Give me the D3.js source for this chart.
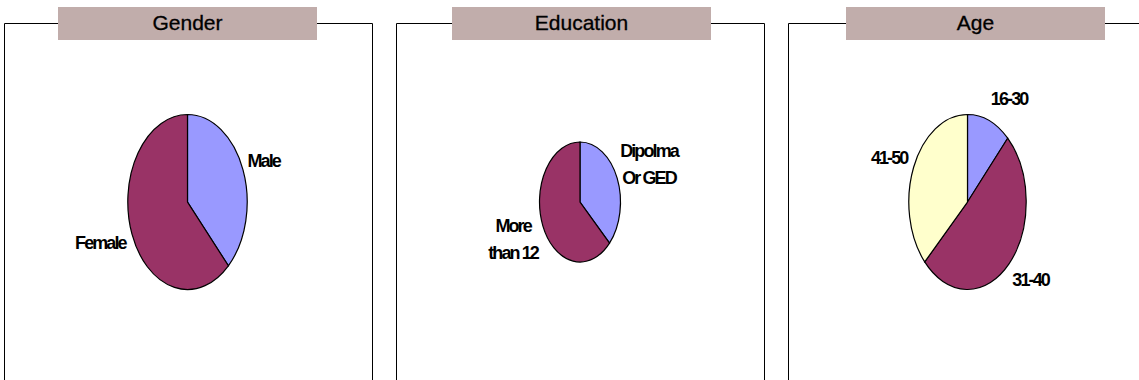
<!DOCTYPE html>
<html>
<head>
<meta charset="utf-8">
<script src="https://cdn.jsdelivr.net/npm/d3@7"></script>
<style>
  body { margin: 0; background: #fff; }
  .title { font-family: "Liberation Sans", Arial, sans-serif; font-size: 21px; fill: #000; stroke: #000; stroke-width: 0.3px; }
  .label { font-family: "Liberation Sans", Arial, sans-serif; font-size: 18px; font-weight: bold; letter-spacing: -1.9px; fill: #000; }
</style>
</head>
<body>
<script>
// three survey pies: gender, education, age

// data
var titles = ["Gender", "Education", "Age"];

var genderCats = [["Male"], ["Female"]];
var genderVals = [38, 62];

var eduCats = [["Dipolma", "Or GED"], ["More", "than 12"]];
var eduVals = [37, 63];

var ageCats = [["16-30"], ["31-40"], ["41-50"]];
var ageVals = [12, 51, 37];

var sliceColors = ["#9999ff", "#993366", "#ffffcc"];

// layout of each panel (frame, title, pie ellipse)
var width = 1139, height = 380;
var frameLeft = [4.5, 396.5, 788.5], frameW = 368, frameTop = 23.5;
var titleCx = [187.5, 581.5, 975.5], titleW = 259, titleH = 33;
var pieCx = [187.5, 580, 967.5], pieCy = 202;
var pieRx = [59.7, 40.5, 58.7], pieRy = [87.5, 60, 87.5];

var panels = [
    {cats: genderCats, vals: genderVals},
    {cats: eduCats, vals: eduVals},
    {cats: ageCats, vals: ageVals}
];

var svg = d3.select("body")
    .append("svg")
    .attr("width", width)
    .attr("height", height);

var pie = d3.pie().sort(null).value(function(d) { return d; });
var R = 100; // unit radius, ellipse made by scaling
var arc = d3.arc().innerRadius(0).outerRadius(R);

panels.forEach(function(p, i) {
    var g = svg.append("g").attr("class", "panel");

    // frame (open at bottom, runs off the picture)
    g.append("path")
        .attr("d", "M" + frameLeft[i] + "," + (height + 10) + "V" + frameTop +
                   "H" + (frameLeft[i] + frameW) + "V" + (height + 10))
        .attr("fill", "none")
        .attr("stroke", "#000")
        .attr("stroke-width", 1);

    // title box
    g.append("rect")
        .attr("x", titleCx[i] - titleW / 2)
        .attr("y", 7)
        .attr("width", titleW)
        .attr("height", titleH)
        .attr("fill", "#c1adab");

    g.append("text")
        .attr("class", "title")
        .attr("x", titleCx[i])
        .attr("y", 30)
        .attr("text-anchor", "middle")
        .text(titles[i]);

    var arcs = pie(p.vals);
    var cx = pieCx[i], cy = pieCy, rx = pieRx[i], ry = pieRy[i];

    // slices
    g.append("g")
        .attr("transform", "translate(" + cx + "," + cy + ") scale(" + (rx / R) + "," + (ry / R) + ")")
        .selectAll(".slice")
        .data(arcs)
        .enter().append("path")
        .attr("class", "slice")
        .attr("d", arc)
        .attr("fill", function(d, j) { return sliceColors[j]; })
        .attr("stroke", "#000")
        .attr("stroke-width", 1.2)
        .attr("vector-effect", "non-scaling-stroke");

    // labels outside the ellipse
    g.selectAll(".label")
        .data(arcs)
        .enter().append("text")
        .attr("class", "label")
        .attr("text-anchor", "middle")
        .each(function(d, j) {
            var t = d3.select(this);
            p.cats[j].forEach(function(line, k) {
                t.append("tspan")
                    .attr("x", 0)
                    .attr("dy", k == 0 ? 0 : 27)
                    .text(line);
            });
            var a = (d.startAngle + d.endAngle) / 2;
            var px = cx + rx * 1.08 * Math.sin(a),
                py = cy - ry * 1.08 * Math.cos(a);
            var bb = this.getBBox();
            var left = Math.sin(a) >= 0 ? px : px - bb.width;
            var midY = py - Math.cos(a) * (bb.height / 2 + 6);
            t.attr("transform", "translate(" + (left - bb.x) + "," + (midY - (bb.y + bb.height / 2)) + ")");
        });
});
</script>
</body>
</html>
